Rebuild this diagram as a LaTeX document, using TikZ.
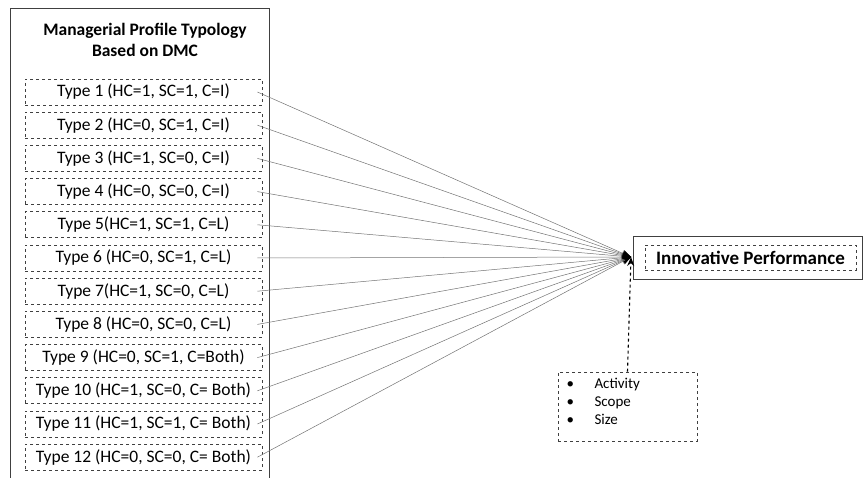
\documentclass[tikz,border=0pt]{standalone}
\usepackage{fontspec}
\setmainfont{Carlito}
\usetikzlibrary{arrows.meta}
\begin{document}
\begin{tikzpicture}[x=1pt,y=-1pt,
  typebox/.style={draw=black!75, dashed, line width=0.8pt, minimum width=237pt, minimum height=26pt, inner sep=0pt, font=\fontsize{17.5}{19}\selectfont},
  conn/.style={draw=black!55, line width=0.5pt, -{Stealth[length=9pt,width=7pt,black]}},
]
\useasboundingbox (0,0) rectangle (865,478);
% outer left frame (open bottom)
\draw[black!75, line width=0.9pt] (10,478) -- (10,8) coordinate (tl) -- (269,8) -- (269,478);
\node[font=\bfseries\fontsize{17.5}{21}\selectfont, align=center] (title) at (145,40) {Managerial Profile Typology\\Based on DMC};
% target
\coordinate (tgt) at (631,257);
\node[draw=black!75, line width=0.9pt, minimum width=229pt, minimum height=43pt] (ipout) at (747.5,257.5) {};
\node[draw=black!75, dashed, line width=0.8pt, minimum width=211pt, minimum height=25pt, inner sep=0pt, font=\bfseries\fontsize{19}{22}\selectfont] (ip) at (750.5,257.5) {Innovative Performance};
% types
\foreach \i/\t in {1/{Type 1 (HC=1, SC=1, C=I)},2/{Type 2 (HC=0, SC=1, C=I)},3/{Type 3 (HC=1, SC=0, C=I)},4/{Type 4 (HC=0, SC=0, C=I)},5/{Type 5(HC=1, SC=1, C=L)},6/{Type 6 (HC=0, SC=1, C=L)},7/{Type 7(HC=1, SC=0, C=L)},8/{Type 8 (HC=0, SC=0, C=L)},9/{Type 9 (HC=0, SC=1, C=Both)},10/{Type 10 (HC=1, SC=0, C= Both)},11/{Type 11 (HC=1, SC=1, C= Both)},12/{Type 12 (HC=0, SC=0, C= Both)}}{
  \node[typebox] (t\i) at (143.5,{92+(\i-1)*33.2}) {\t};
  \draw[conn] ([xshift=-5pt]t\i.east) -- (tgt);
}
% controls box
\node[draw=black!75, dashed, line width=0.8pt, minimum width=139pt, minimum height=69pt, inner sep=0pt] (ctrl) at (627.5,406.5) {};
\node[anchor=north west, font=\fontsize{15}{18}\selectfont, align=left] (ctrltext) at (563,375) {\makebox[28pt][l]{\textbullet}Activity\\\makebox[28pt][l]{\textbullet}Scope\\\makebox[28pt][l]{\textbullet}Size};
\draw[black, dashed, line width=1.1pt, -{Stealth[length=9pt,width=7pt]}] (ctrl.north) -- (tgt);
\end{tikzpicture}
\end{document}
